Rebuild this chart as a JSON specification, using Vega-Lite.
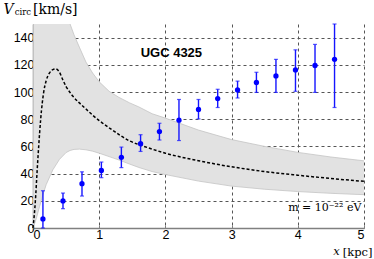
{
  "$schema": "https://vega.github.io/schema/vega-lite/v6.json",
  "width": 331,
  "height": 204,
  "autosize": "none",
  "padding": {"left": 33, "top": 24, "right": 10, "bottom": 31},
  "background": "white",
  "config": {
    "view": {"stroke": null},
    "axis": {
      "labelFont": "Liberation Sans",
      "labelFontSize": 12.5,
      "labelColor": "black",
      "grid": true,
      "gridColor": "#555555",
      "gridDash": [3, 3],
      "gridWidth": 1,
      "domainColor": "#808080",
      "domainWidth": 1.5,
      "tickColor": "#808080",
      "tickSize": -3,
      "zindex": 1
    }
  },
  "datasets": {
    "band": [
      {"x": 0, "lo": 0, "hi": 0},
      {"x": 0.008, "lo": 1, "hi": 160},
      {"x": 0.05, "lo": 7, "hi": 175},
      {"x": 0.1, "lo": 16, "hi": 175},
      {"x": 0.15, "lo": 24.5, "hi": 175},
      {"x": 0.2, "lo": 32, "hi": 175},
      {"x": 0.3, "lo": 42.8, "hi": 175},
      {"x": 0.4, "lo": 50.5, "hi": 170},
      {"x": 0.5, "lo": 55.5, "hi": 157},
      {"x": 0.56, "lo": 57, "hi": 150},
      {"x": 0.62, "lo": 57.8, "hi": 142},
      {"x": 0.7, "lo": 58, "hi": 133},
      {"x": 0.8, "lo": 57.5, "hi": 122},
      {"x": 0.9, "lo": 56.5, "hi": 114},
      {"x": 1.0, "lo": 55, "hi": 107.5},
      {"x": 1.15, "lo": 52.5, "hi": 100.5},
      {"x": 1.3, "lo": 50, "hi": 96},
      {"x": 1.46, "lo": 47, "hi": 92},
      {"x": 1.6, "lo": 44.5, "hi": 89},
      {"x": 1.8, "lo": 41.5, "hi": 84},
      {"x": 2.0, "lo": 39.3, "hi": 80.8},
      {"x": 2.5, "lo": 34.5, "hi": 72},
      {"x": 3.0, "lo": 30.8, "hi": 65},
      {"x": 3.5, "lo": 28.5, "hi": 60},
      {"x": 4.0, "lo": 26.8, "hi": 55.6},
      {"x": 4.5, "lo": 25.5, "hi": 52.2},
      {"x": 5.0, "lo": 24.5, "hi": 49.4}
    ],
    "curve": [
      {"x": 0, "v": 0},
      {"x": 0.02, "v": 10},
      {"x": 0.036, "v": 20},
      {"x": 0.06, "v": 40},
      {"x": 0.086, "v": 60},
      {"x": 0.116, "v": 80},
      {"x": 0.14, "v": 92},
      {"x": 0.162, "v": 100},
      {"x": 0.2, "v": 108.5},
      {"x": 0.25, "v": 114},
      {"x": 0.3, "v": 116.5},
      {"x": 0.34, "v": 117},
      {"x": 0.4, "v": 114.5},
      {"x": 0.45, "v": 109},
      {"x": 0.5, "v": 104},
      {"x": 0.554, "v": 100},
      {"x": 0.6, "v": 97},
      {"x": 0.7, "v": 92},
      {"x": 0.8, "v": 87.5},
      {"x": 0.9, "v": 83},
      {"x": 1.0, "v": 79},
      {"x": 1.2, "v": 72},
      {"x": 1.46, "v": 64},
      {"x": 1.62, "v": 61},
      {"x": 1.8, "v": 58},
      {"x": 2.0, "v": 55},
      {"x": 2.5, "v": 49.5},
      {"x": 3.0, "v": 45},
      {"x": 3.5, "v": 41.5},
      {"x": 4.0, "v": 38.8},
      {"x": 4.5, "v": 36.4},
      {"x": 5.0, "v": 34.3}
    ],
    "obs": [
      {"x": 0.15, "v": 6.7, "lo": 0, "hi": 27.4},
      {"x": 0.453, "v": 19.9, "lo": 14.2, "hi": 25.7},
      {"x": 0.74, "v": 32.6, "lo": 23.5, "hi": 41.3},
      {"x": 1.033, "v": 42.3, "lo": 37, "hi": 48.5},
      {"x": 1.335, "v": 52, "lo": 44.4, "hi": 59.5},
      {"x": 1.625, "v": 62, "lo": 56.3, "hi": 68.6},
      {"x": 1.91, "v": 70.9, "lo": 64.7, "hi": 77},
      {"x": 2.205, "v": 79.3, "lo": 64.3, "hi": 94.5},
      {"x": 2.5, "v": 87.2, "lo": 80.2, "hi": 94.5},
      {"x": 2.79, "v": 95.2, "lo": 88.6, "hi": 102},
      {"x": 3.09, "v": 101.5, "lo": 95.6, "hi": 108},
      {"x": 3.375, "v": 107, "lo": 99.7, "hi": 114.5},
      {"x": 3.67, "v": 111.8, "lo": 99.7, "hi": 124},
      {"x": 3.965, "v": 116.2, "lo": 100.5, "hi": 131},
      {"x": 4.26, "v": 119.5, "lo": 99.7, "hi": 135},
      {"x": 4.555, "v": 124, "lo": 88.6, "hi": 150}
    ],
    "one": [{}]
  },
  "encoding": {
    "x": {
      "type": "quantitative",
      "scale": {"domain": [0, 5], "nice": false},
      "axis": {
        "values": [0, 1, 2, 3, 4, 5],
        "format": "d",
        "labelPadding": 3,
        "title": "[kpc]",
        "titleFont": "DejaVu Serif",
        "titleFontSize": 11.5,
        "titleFontWeight": "normal",
        "titleAnchor": "end",
        "titleAlign": "right",
        "titleBaseline": "middle",
        "titleX": 339,
        "titleY": 24
      }
    },
    "y": {
      "type": "quantitative",
      "scale": {"domain": [0, 150], "nice": false},
      "axis": {
        "values": [0, 20, 40, 60, 80, 100, 120, 140],
        "labelPadding": 2,
        "title": "V",
        "titleFont": "DejaVu Serif",
        "titleFontStyle": "italic",
        "titleFontSize": 14,
        "titleFontWeight": "normal",
        "titleAngle": 0,
        "titleAlign": "left",
        "titleBaseline": "middle",
        "titleX": -30,
        "titleY": -14.5
      }
    }
  },
  "layer": [
    {
      "data": {"name": "band"},
      "mark": {"type": "area", "color": "#e2e2e2", "clip": true},
      "encoding": {
        "x": {"field": "x"},
        "y": {"field": "lo"},
        "y2": {"field": "hi"}
      }
    },
    {
      "data": {"name": "band"},
      "mark": {"type": "line", "color": "#c4c4c4", "strokeWidth": 0.8, "clip": true},
      "encoding": {"x": {"field": "x"}, "y": {"field": "lo"}}
    },
    {
      "data": {"name": "band"},
      "mark": {"type": "line", "color": "#c4c4c4", "strokeWidth": 0.8, "clip": true},
      "encoding": {"x": {"field": "x"}, "y": {"field": "hi"}}
    },
    {
      "data": {"name": "curve"},
      "mark": {"type": "line", "color": "black", "strokeWidth": 1.5, "strokeDash": [3, 2], "interpolate": "monotone"},
      "encoding": {"x": {"field": "x"}, "y": {"field": "v"}}
    },
    {
      "data": {"name": "obs"},
      "mark": {"type": "errorbar", "color": "#1515ff", "thickness": 1.4, "ticks": {"size": 4, "thickness": 1.2}},
      "encoding": {"x": {"field": "x"}, "y": {"field": "lo"}, "y2": {"field": "hi"}}
    },
    {
      "data": {"name": "obs"},
      "mark": {"type": "circle", "color": "#0000ff", "opacity": 1, "size": 28},
      "encoding": {"x": {"field": "x"}, "y": {"field": "v"}}
    },
    {
      "data": {"name": "one"},
      "mark": {"type": "text", "font": "Liberation Sans", "fontWeight": "bold", "fontSize": 13, "color": "black", "baseline": "middle", "align": "center"},
      "encoding": {"x": {"datum": 2.09}, "y": {"datum": 128.8}, "text": {"value": "UGC 4325"}}
    },
    {
      "data": {"name": "one"},
      "mark": {"type": "text", "font": "DejaVu Serif", "fontSize": 11, "color": "black", "baseline": "middle", "align": "right"},
      "encoding": {"x": {"datum": 4.96}, "y": {"datum": 14.8}, "text": {"value": "m = 10⁻²² eV"}}
    },
    {
      "data": {"name": "one"},
      "mark": {"type": "text", "font": "DejaVu Serif", "fontSize": 8.5, "color": "black", "baseline": "middle", "align": "left"},
      "encoding": {"x": {"datum": -0.276}, "y": {"datum": 158.9}, "text": {"value": "circ"}}
    },
    {
      "data": {"name": "one"},
      "mark": {"type": "text", "font": "DejaVu Serif", "fontSize": 14, "color": "black", "baseline": "middle", "align": "left"},
      "encoding": {"x": {"datum": 0.0}, "y": {"datum": 160}, "text": {"value": "[km/s]"}}
    },
    {
      "data": {"name": "one"},
      "mark": {"type": "text", "font": "DejaVu Serif", "fontStyle": "italic", "fontSize": 11.5, "color": "black", "baseline": "middle", "align": "center"},
      "encoding": {"x": {"datum": 4.585}, "y": {"datum": -17.4}, "text": {"value": "x"}}
    }
  ]
}
